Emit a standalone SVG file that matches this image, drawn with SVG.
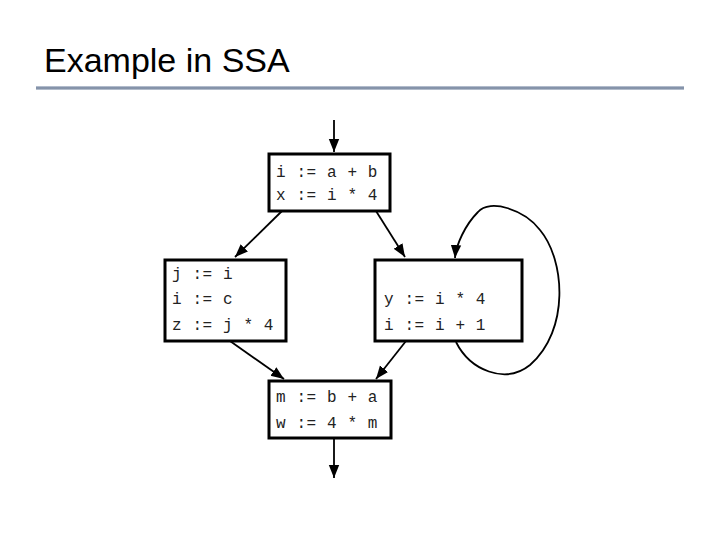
<svg xmlns="http://www.w3.org/2000/svg" width="720" height="540" viewBox="0 0 720 540">
<defs>
<linearGradient id="bar" x1="0" y1="0" x2="0" y2="1"><stop offset="0" stop-color="#c8d0dc"/><stop offset="0.5" stop-color="#6f7f99"/><stop offset="1" stop-color="#c8d0dc"/></linearGradient>
<marker id="ah" viewBox="0 0 10 10" refX="10" refY="5" markerWidth="13" markerHeight="13" markerUnits="userSpaceOnUse" orient="auto"><path d="M0,1 L10,5 L0,9 z" fill="#000"/></marker>
</defs>
<style>
.b{fill:#fff;stroke:#000;stroke-width:3}
.t{font-family:"Liberation Mono",monospace;font-size:16px;letter-spacing:0.6px;fill:#222}
.c{fill:none;stroke:#000;stroke-width:1.8;marker-end:url(#ah)}
</style>
<rect width="720" height="540" fill="#fff"/>
<text x="44" y="72" font-family="Liberation Sans, Arial, sans-serif" font-size="34" fill="#000">Example in SSA</text>
<rect x="36" y="86" width="648" height="4" fill="url(#bar)"/>
<g id="connectors">
<line class="c" x1="334" y1="120" x2="334" y2="152"/>
<line class="c" x1="282" y1="211" x2="235" y2="257"/>
<line class="c" x1="376" y1="211" x2="405" y2="257"/>
<line class="c" x1="230" y1="341" x2="284" y2="379"/>
<line class="c" x1="406" y1="341" x2="376" y2="379"/>
<line class="c" x1="334" y1="438" x2="334" y2="478"/>
<path class="c" d="M456,342 C470,370 505,385 530,365 C570,330 565,260 540,230 C525,210 490,198 478,212 C465,225 456,245 455,258"/>
</g>
<g id="n1"><rect class="b" x="269" y="154" width="121" height="57"/><text class="t" x="276" y="177">i := a + b</text><text class="t" x="276" y="200">x := i * 4</text></g>
<g id="n2"><rect class="b" x="165" y="260" width="121" height="81"/><text class="t" x="172" y="279">j := i</text><text class="t" x="172" y="304">i := c</text><text class="t" x="172" y="330">z := j * 4</text></g>
<g id="n3"><rect class="b" x="375" y="260" width="147" height="81"/><text class="t" x="384" y="304">y := i * 4</text><text class="t" x="384" y="330">i := i + 1</text></g>
<g id="n4"><rect class="b" x="269" y="381" width="122" height="57"/><text class="t" x="276" y="402">m := b + a</text><text class="t" x="276" y="428">w := 4 * m</text></g>
</svg>
